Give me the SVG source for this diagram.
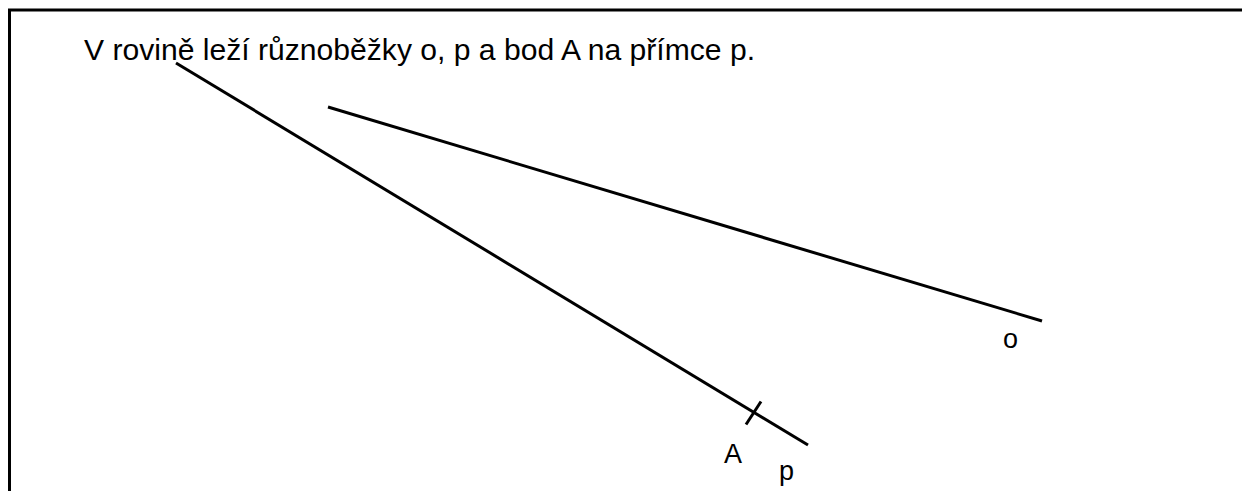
<svg xmlns="http://www.w3.org/2000/svg" width="1242" height="491" viewBox="0 0 1242 491">
<style>
.ln{stroke:#000;stroke-width:3;fill:none;stroke-linecap:butt}
.t{font-family:"Liberation Sans",Arial,sans-serif;font-size:27px;fill:#000}
.h{font-size:30px}
</style>
<rect width="1242" height="491" fill="#fff"/>
<g id="frame"><path class="ln" d="M9.5,491 V10 H1242"/></g>
<g id="title"><text class="t h" x="84" y="60" textLength="671" lengthAdjust="spacingAndGlyphs">V rovině leží různoběžky o, p a bod A na přímce p.</text></g>
<g id="connectors">
<line id="line-p" class="ln" x1="176" y1="63" x2="808" y2="445"/>
<line id="line-o" class="ln" x1="328" y1="107" x2="1042" y2="321"/>
<line id="tick-A" class="ln" x1="761" y1="401.5" x2="746" y2="424.5"/>
</g>
<g id="label-o"><text class="t" x="1003" y="348">o</text></g>
<g id="label-A"><text class="t" x="724" y="463">A</text></g>
<g id="label-p"><text class="t" x="779" y="480">p</text></g>
</svg>
